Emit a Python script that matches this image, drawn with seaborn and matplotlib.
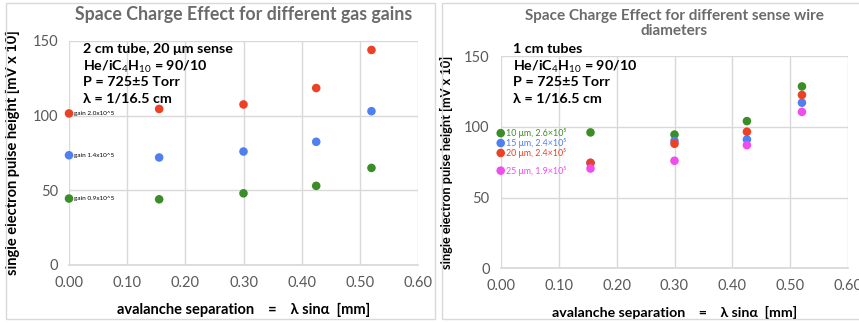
import matplotlib
matplotlib.use("Agg")
import matplotlib.pyplot as plt
from matplotlib.patches import Rectangle
import numpy as np
import pandas as pd
import seaborn as sns

# ---- data: left panel (2 cm tube, different gas gains) ----
sep_left = [0.0, 0.155, 0.30, 0.425, 0.52]
gain_labels = ["gain 2.0x10^5", "gain 1.4x10^5", "gain 0.9x10^5"]
gain_20 = [101.5, 104.5, 107.5, 118.5, 144.0]
gain_14 = [73.5, 72.0, 76.0, 82.5, 103.0]
gain_09 = [44.5, 44.0, 48.0, 53.0, 65.0]

# ---- data: right panel (1 cm tubes, different sense wire diameters) ----
sep_right = [0.0, 0.155, 0.30, 0.425, 0.52]
wire_labels = ["10 μm, 2.6×10⁵", "15 μm, 2.4×10⁵", "20 μm, 2.4×10⁵", "25 μm, 1.9×10⁵"]
wire_10 = [95.5, 96.0, 94.5, 104.0, 128.5]
wire_15 = [88.5, 74.5, 90.0, 91.0, 117.0]
wire_20 = [81.5, 74.5, 88.0, 96.5, 122.5]
wire_25 = [69.0, 70.5, 76.0, 87.0, 110.5]

x_ticks = [0.0, 0.1, 0.2, 0.3, 0.4, 0.5, 0.6]
y_ticks = [0, 50, 100, 150]

RED = "#ec4125"
BLUE = "#4f7ff2"
GREEN = "#3b8d27"
MAGENTA = "#f04cf0"
GRID = "#d9d9d9"
TICK = "#595959"
TITLE = "#6b6b6b"

sns.set_theme(style="white")
plt.rcParams["font.family"] = ["Lato", "DejaVu Sans"]
plt.rcParams["mathtext.fontset"] = "custom"
plt.rcParams["mathtext.rm"] = "Lato"
plt.rcParams["mathtext.bf"] = "Lato:bold"

fig = plt.figure(figsize=(8.59, 3.22), dpi=100)

# panel frames
for (x0, w) in [(6 / 859, 429 / 859), (442 / 859, 420 / 859)]:
    fig.patches.append(Rectangle((x0, 3 / 322), w, 316 / 322, transform=fig.transFigure,
                                 fill=False, edgecolor=GRID, linewidth=1.0))

ax1 = fig.add_axes([69 / 859, 1 - 265 / 322, 349 / 859, 224 / 322])
ax2 = fig.add_axes([500.7 / 859, 1 - 268.3 / 322, 347.6 / 859, 212.3 / 322])

left_df = pd.DataFrame({
    "sep": sep_left * 3,
    "height": gain_20 + gain_14 + gain_09,
    "series": [gain_labels[0]] * 5 + [gain_labels[1]] * 5 + [gain_labels[2]] * 5,
})
right_df = pd.DataFrame({
    "sep": sep_right * 4,
    "height": wire_10 + wire_15 + wire_20 + wire_25,
    "series": sum([[lab] * 5 for lab in wire_labels], []),
})

sns.scatterplot(data=left_df, x="sep", y="height", hue="series",
                palette=[RED, BLUE, GREEN], s=38, edgecolor="none",
                legend=False, ax=ax1, zorder=3, clip_on=False)
sns.scatterplot(data=right_df, x="sep", y="height", hue="series",
                palette=[GREEN, BLUE, RED, MAGENTA], s=38, edgecolor="none",
                legend=False, ax=ax2, zorder=3, clip_on=False)

for ax, xl_size, yl_size in ((ax1, 10.5, 10.5), (ax2, 10.2, 9.2)):
    ax.set_xlim(0, 0.6)
    ax.set_ylim(0, 150)
    ax.set_xticks(x_ticks)
    ax.set_yticks(y_ticks)
    ax.set_xticklabels([f"{t:.2f}" for t in x_ticks])
    ax.grid(True, color=GRID, linewidth=1.0)
    ax.set_axisbelow(True)
    for side in ("top", "right", "left"):
        ax.spines[side].set_visible(False)
    ax.spines["bottom"].set_color(GRID)
    ax.tick_params(axis="both", length=0, labelsize=10.5, labelcolor=TICK, pad=8)
    ax.set_xlabel("avalanche separation    =    λ sinα  [mm]", fontsize=xl_size,
                  fontweight="bold", color="black", labelpad=9)
    ax.set_ylabel("single electron pulse height [mV x 10]", fontsize=yl_size,
                  fontweight="bold", color="black")
    ax.set_facecolor("none")

ax1.yaxis.set_label_coords(-49 / 349, 0.5)
ax2.yaxis.set_label_coords(-48 / 347.6, 0.5)

ax1.set_title("Space Charge Effect for different gas gains", fontsize=12.8,
              fontweight="bold", color=TITLE, pad=15)
ax2.set_title("Space Charge Effect for different sense wire\ndiameters", fontsize=11,
              fontweight="bold", color=TITLE, pad=15, linespacing=1.15)

info_left = ["2 cm tube, 20 μm sense", "He/iC$_4$H$_{10}$ = 90/10", "P = 725±5 Torr", "λ = 1/16.5 cm"]
info_right = ["1 cm tubes", "He/iC$_4$H$_{10}$ = 90/10", "P = 725±5 Torr", "λ = 1/16.5 cm"]
# one text per line, placed at fixed pixel rows of the figure
info_rows = [48, 64.5, 81.5, 97.5]
for x_px, lines in ((83, info_left), (513, info_right)):
    for y_px, line in zip(info_rows, lines):
        fig.text(x_px / 859, 1 - y_px / 322, line, ha="left", va="center_baseline",
                 fontsize=10.3, fontweight="bold", color="black")

# point labels at the first separation value
for lab, vals in zip(gain_labels, [gain_20, gain_14, gain_09]):
    ax1.annotate(lab, (sep_left[0], vals[0]), xytext=(3.5, 0), textcoords="offset points",
                 fontsize=4.6, color="black", va="center", ha="left")
for lab, vals, col in zip(wire_labels, [wire_10, wire_15, wire_20, wire_25],
                          [GREEN, BLUE, RED, MAGENTA]):
    ax2.annotate(lab, (sep_right[0], vals[0]), xytext=(4, 0), textcoords="offset points",
                 fontsize=6.4, color=col, va="center", ha="left")

fig.savefig("out.png", dpi=100)
